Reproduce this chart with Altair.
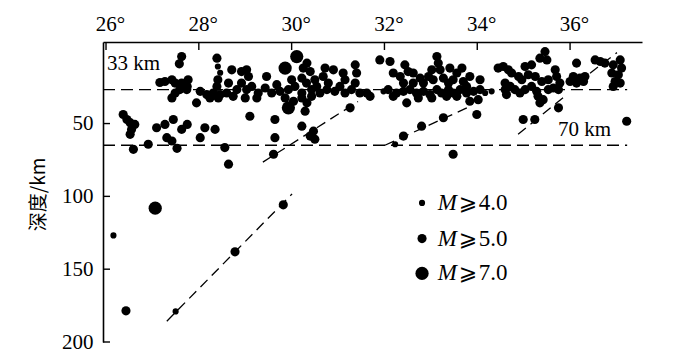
import altair as alt
import pandas as pd

# Earthquake hypocentres: longitude (deg), depth (km), magnitude class
lon = [27.63, 27.58, 28.39, 28.41, 28.46, 28.41, 28.71, 27.16, 27.27, 27.42,
       27.49, 27.63, 27.77, 27.75, 27.59, 27.49, 27.42, 27.74, 27.95, 28.03,
       28.17, 28.31, 28.46, 28.60, 28.74, 28.24, 28.42, 28.64, 28.39, 26.37,
       26.45, 26.52, 26.62, 26.55, 26.52, 27.09, 27.27, 27.45, 27.63, 27.75,
       27.31, 27.42, 27.53, 26.59, 26.91, 28.03, 28.13, 28.35, 28.56, 28.64,
       30.11, 29.86, 30.33, 30.40, 30.25, 30.72, 30.90, 30.68, 31.11, 31.37,
       31.40, 31.15, 28.92, 29.03, 29.07, 29.46, 28.82, 28.92, 29.03, 29.14,
       29.28, 29.43, 29.57, 29.68, 29.75, 29.93, 30.07, 30.22, 30.32, 30.43,
       30.54, 30.61, 30.76, 30.93, 31.04, 31.15, 31.29, 31.37, 31.47, 31.62,
       30.00, 30.22, 30.50, 30.79, 29.00, 29.25, 29.86, 30.04, 30.22, 30.43,
       29.93, 30.33, 30.29, 29.10, 29.64, 30.22, 30.47, 30.40, 30.50, 29.64,
       29.61, 31.26, 31.90, 32.12, 32.44, 32.51, 33.13, 33.16, 33.20, 33.02,
       33.41, 33.56, 33.67, 32.19, 32.34, 32.62, 32.77, 32.41, 32.62, 32.84,
       32.95, 33.05, 33.27, 33.38, 33.48, 33.70, 33.84, 34.06, 33.77, 34.45,
       34.56, 34.67, 31.69, 31.98, 32.08, 32.26, 32.41, 32.55, 32.69, 32.84,
       32.98, 33.13, 33.23, 33.38, 33.48, 33.63, 33.77, 33.92, 34.06, 34.17,
       34.31, 34.60, 34.63, 32.19, 32.48, 32.73, 33.02, 33.34, 33.56, 33.84,
       34.02, 33.99, 32.41, 32.80, 33.27, 32.23, 33.48, 35.46, 35.35, 35.50,
       35.17, 35.03, 34.74, 34.89, 34.96, 35.10, 35.25, 35.39, 35.53, 35.68,
       35.71, 35.78, 34.60, 34.71, 34.81, 34.92, 35.03, 35.17, 35.28, 35.31,
       35.42, 35.35, 35.53, 35.64, 35.75, 36.14, 36.07, 36.21, 36.32, 36.00,
       36.14, 36.29, 36.54, 36.65, 36.75, 36.93, 37.08, 37.11, 36.90, 37.04,
       36.97, 37.08, 36.93, 35.75, 34.99, 35.24, 37.22, 26.16, 26.43, 27.06,
       27.50, 28.78, 29.82]
depth = [4.0, 9.0, 5.1, 10.8, 15.1, 19.9, 13.1, 21.8, 21.1, 19.9,
         22.2, 22.2, 19.9, 24.5, 26.7, 29.0, 32.4, 26.7, 35.8, 27.9,
         30.1, 29.0, 30.1, 29.0, 31.3, 32.4, 32.4, 22.2, 24.5, 43.8,
         47.2, 49.4, 50.6, 54.0, 57.4, 52.9, 50.6, 47.2, 54.0, 50.6,
         59.7, 62.0, 67.0, 67.7, 64.2, 59.7, 52.9, 54.0, 66.5, 77.9,
         4.0, 11.9, 8.5, 14.3, 11.9, 11.9, 13.1, 17.7, 15.3, 9.7,
         15.3, 19.9, 14.3, 13.1, 17.7, 17.7, 26.7, 22.2, 26.7, 24.5,
         29.0, 25.6, 29.0, 23.3, 27.9, 26.7, 24.5, 29.0, 22.2, 26.7,
         24.5, 29.0, 26.7, 27.9, 24.5, 29.0, 26.7, 22.2, 29.0, 29.0,
         19.9, 18.8, 19.9, 22.2, 32.4, 32.4, 32.4, 34.7, 32.4, 31.3,
         39.2, 35.8, 41.5, 45.0, 47.2, 51.8, 55.2, 58.6, 60.8, 59.7,
         71.1, 39.2, 6.3, 7.4, 9.7, 14.3, 4.0, 8.5, 13.1, 13.1,
         11.9, 15.3, 11.9, 15.3, 17.7, 15.3, 18.8, 22.2, 22.2, 22.2,
         17.7, 19.9, 18.8, 22.2, 19.9, 21.1, 17.7, 19.9, 24.5, 11.9,
         10.8, 13.1, 31.3, 27.9, 26.7, 29.0, 27.9, 26.7, 29.0, 27.9,
         30.1, 26.7, 29.0, 26.7, 29.0, 26.7, 29.0, 27.9, 26.7, 29.0,
         27.9, 26.7, 30.1, 31.3, 35.8, 32.4, 32.4, 31.3, 31.3, 34.7,
         33.6, 43.8, 58.6, 51.8, 46.0, 64.2, 71.1, 0.6, 5.1, 6.3,
         9.7, 10.8, 15.3, 17.7, 19.9, 16.5, 17.7, 21.1, 19.9, 13.1,
         17.7, 22.2, 22.2, 24.5, 26.7, 29.0, 26.7, 24.5, 27.9, 31.3,
         33.6, 35.8, 26.7, 25.6, 26.7, 8.5, 17.7, 18.8, 17.7, 21.1,
         22.2, 21.1, 6.3, 7.4, 8.5, 9.7, 6.3, 11.9, 15.3, 16.5,
         21.1, 22.2, 24.5, 39.2, 47.2, 47.2, 48.4, 126.8, 178.6, 108.1,
         179.0, 138.1, 105.8]
mag = [5, 5, 5, 4, 4, 5, 5, 5, 5, 5,
       5, 5, 5, 5, 5, 5, 5, 5, 5, 5,
       5, 5, 5, 5, 5, 5, 5, 5, 5, 5,
       5, 5, 5, 5, 5, 5, 5, 5, 5, 5,
       5, 5, 5, 5, 5, 5, 5, 5, 5, 5,
       7, 7, 5, 5, 5, 5, 5, 5, 5, 5,
       5, 5, 5, 5, 5, 5, 5, 5, 5, 5,
       5, 5, 5, 5, 5, 5, 5, 5, 5, 5,
       5, 5, 5, 5, 5, 5, 5, 5, 5, 5,
       5, 5, 5, 5, 5, 5, 5, 5, 5, 5,
       7, 5, 5, 5, 5, 5, 5, 5, 5, 5,
       5, 5, 5, 5, 5, 5, 5, 5, 5, 5,
       5, 5, 5, 5, 5, 5, 5, 5, 5, 5,
       5, 5, 5, 5, 5, 5, 5, 5, 5, 5,
       5, 5, 5, 4, 5, 5, 5, 5, 5, 5,
       5, 5, 5, 5, 5, 5, 5, 5, 5, 4,
       4, 5, 5, 5, 5, 5, 5, 5, 5, 5,
       5, 5, 5, 5, 5, 4, 5, 5, 5, 5,
       5, 5, 5, 5, 5, 5, 5, 5, 5, 5,
       5, 5, 5, 5, 5, 5, 5, 5, 5, 5,
       5, 5, 5, 5, 5, 5, 5, 5, 5, 5,
       5, 5, 5, 5, 5, 5, 5, 5, 5, 5,
       5, 5, 5, 5, 5, 5, 5, 4, 5, 7,
       4, 5, 5]

# Slanted dashed lines (subduction trends)
seg_lon1 = [27.31, 29.38, 32.01, 34.88, 36.43]
seg_dep1 = [185.7, 76.5, 64.9, 57.4, 15.4]
seg_lon2 = [30.01, 31.43, 33.89, 35.93, 37.01]
seg_dep2 = [98.3, 34.9, 37.6, 30.1, 1.3]

# Horizontal dashed lines and their labels
h_lon1 = [25.935, 25.935]
h_lon2 = [37.23, 37.23]
h_dep = [26.7, 64.9]
h_labels = ["33 km", "70 km"]
h_label_lon = [26.02, 35.74]
h_label_dep = [13.1, 58.8]

# Legend
leg_mag = [4, 5, 7]
leg_text = ["4.0", "5.0", "7.0"]
leg_dot_lon = [32.81, 32.81, 32.81]
leg_txt_lon = [33.15, 33.15, 33.15]
leg_dep = [104.5, 129.0, 152.9]

x_ticks = [26, 28, 30, 32, 34, 36]
y_ticks = [50, 100, 150, 200]

SERIF = "Liberation Serif"

pts = pd.DataFrame({"lon": lon, "depth": depth, "mag": mag})
segs = pd.DataFrame({"lon": seg_lon1, "depth": seg_dep1, "lon2": seg_lon2, "depth2": seg_dep2})
hl = pd.DataFrame({"lon": h_lon1, "lon2": h_lon2, "depth": h_dep})
hlab = pd.DataFrame({"lon": h_label_lon, "depth": h_label_dep, "t": h_labels})
leg = pd.DataFrame({"lon": leg_dot_lon, "tlon": leg_txt_lon, "depth": leg_dep,
                    "mag": leg_mag, "t": leg_text})
xt = pd.DataFrame({"lon": x_ticks})
yt = pd.DataFrame({"depth": y_ticks})

xscale = alt.Scale(domain=[25.935, 37.55], nice=False, zero=False)
yscale = alt.Scale(domain=[-6, 200], reverse=True, nice=False, zero=False)
xaxis = alt.Axis(orient="top", values=x_ticks, labelExpr="datum.value + '°'",
                 ticks=False, labelPadding=8, labelOffset=4, grid=False,
                 labelFont=SERIF, labelFontSize=21, labelColor="black",
                 domainColor="black", domainWidth=1.6, title=None)
yaxis = alt.Axis(values=y_ticks, ticks=False, labelPadding=10, grid=False,
                 labelFont=SERIF, labelFontSize=21, labelColor="black",
                 domainColor="black", domainWidth=1.6,
                 title="深度/km", titleFont="Noto Sans CJK SC", titleFontSize=19,
                 titleFontWeight="normal", titleColor="black", titleAngle=270,
                 titleX=-55, titleY=152, titleAlign="center", titleBaseline="bottom")


def X(f):
    return alt.X(f"{f}:Q", scale=xscale, axis=xaxis)


def Y(f):
    return alt.Y(f"{f}:Q", scale=yscale, axis=yaxis)


size = alt.Size("mag:Q", scale=alt.Scale(domain=[4, 7], range=[38, 175]), legend=None)

points = alt.Chart(pts).mark_circle(color="black", opacity=1).encode(
    x=X("lon"), y=Y("depth"), size=size)

slant = alt.Chart(segs).mark_rule(color="black", strokeWidth=1.3, strokeDash=[10, 6]).encode(
    x=X("lon"), y=Y("depth"), x2="lon2", y2="depth2")

horiz = alt.Chart(hl).mark_rule(color="black", strokeWidth=1.4, strokeDash=[12, 6]).encode(
    x=X("lon"), x2="lon2", y=Y("depth"))

hlabels = alt.Chart(hlab).mark_text(align="left", baseline="alphabetic", font=SERIF,
                                    fontSize=21, color="black").encode(
    x=X("lon"), y=Y("depth"), text="t:N")

leg_dots = alt.Chart(leg).mark_circle(color="black", opacity=1).encode(
    x=X("lon"), y=Y("depth"), size=size)
leg_m = alt.Chart(leg).mark_text(align="left", baseline="middle", font=SERIF, fontSize=23,
                                 fontStyle="italic", color="black").encode(
    x=X("tlon"), y=Y("depth"), text=alt.value("M"))
leg_ge = alt.Chart(leg).mark_text(align="left", baseline="middle", font="DejaVu Sans",
                                  fontSize=22, dx=21, color="black").encode(
    x=X("tlon"), y=Y("depth"), text=alt.value("⩾"))
leg_num = alt.Chart(leg).mark_text(align="left", baseline="middle", font=SERIF, fontSize=23,
                                   dx=41, color="black").encode(
    x=X("tlon"), y=Y("depth"), text="t:N")

xticks = alt.Chart(xt).mark_rule(color="black", strokeWidth=1.4).encode(
    x=X("lon"), y=alt.value(0), y2=alt.value(8))
yticks = alt.Chart(yt).mark_rule(color="black", strokeWidth=1.4).encode(
    y=Y("depth"), x=alt.value(0), x2=alt.value(7))

chart = alt.layer(
    horiz, slant, points, hlabels, leg_dots, leg_m, leg_ge, leg_num, xticks, yticks
).properties(
    width=539, height=300, autosize="none",
    padding={"left": 95, "top": 34, "right": 48, "bottom": 10},
    background="white"
).configure_view(stroke=None)

chart.save("out.html", embed_options={"renderer": "svg", "actions": False})
